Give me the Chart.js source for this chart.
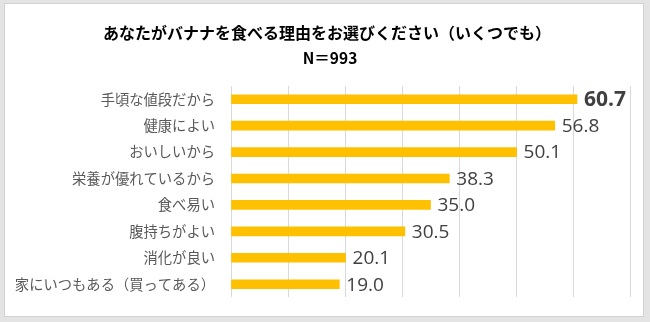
<!DOCTYPE html>
<html>
<head>
<meta charset="utf-8">
<script src="https://cdn.jsdelivr.net/npm/chart.js@4.4.0/dist/chart.umd.min.js"></script>
<style>
  html, body { margin: 0; padding: 0; background: #e4e4e4; }
  #wrap { position: relative; width: 650px; height: 322px; }
</style>
</head>
<body>
<div id="wrap"><canvas id="bananaChart" width="650" height="322"></canvas></div>
<script>
// data
const titleText = "あなたがバナナを食べる理由をお選びください（いくつでも）";
const sampleText = "N＝993";
const categories = [
    "手頃な値段だから",
    "健康によい",
    "おいしいから",
    "栄養が優れているから",
    "食べ易い",
    "腹持ちがよい",
    "消化が良い",
    "家にいつもある（買ってある）",
];
const percents = [60.7, 56.8, 50.1, 38.3, 35.0, 30.5, 20.1, 19.0];
const axisMin = 0;
const axisMax = 70;
const axisStep = 10;

// grey frame behind the white card, plus the two heading lines
const framePlugin = {
    id: "frame",
    beforeDraw(chart) {
        const c = chart.ctx;
        c.save();
        c.fillStyle = "#e4e4e4";
        c.fillRect(0, 0, chart.width, chart.height);
        c.fillStyle = "#ffffff";
        c.fillRect(5, 4, 638, 312);
        c.strokeStyle = "#d2d2d2";
        c.lineWidth = 1;
        c.strokeRect(4.5, 3.5, 639, 313);

        c.fillStyle = "#000000";
        c.textAlign = "center";
        c.textBaseline = "middle";
        c.font = "bold 16px 'Noto Sans CJK JP'";
        c.fillText(titleText, 327, 33);
        c.font = "bold 15.5px 'Noto Sans CJK JP'";
        c.fillText(sampleText, 330, 58);
        c.restore();
    },
};

// value labels at the end of each bar, the first one bold
const valueLabels = {
    id: "valueLabels",
    afterDatasetsDraw(chart) {
        const c = chart.ctx;
        const meta = chart.getDatasetMeta(0);
        c.save();
        c.textBaseline = "middle";
        c.textAlign = "left";
        c.fillStyle = "#404040";
        meta.data.forEach((bar, i) => {
            const v = chart.data.datasets[0].data[i];
            c.font = i === 0 ? "bold 21px 'Open Sans'" : "19px 'Open Sans'";
            c.fillText(v.toFixed(1), bar.x + 7, bar.y + 1);
        });
        c.restore();
    },
};

const ctx = document.getElementById("bananaChart").getContext("2d");
new Chart(ctx, {
    type: "bar",
    data: {
        labels: categories,
        datasets: [
            {
                data: percents,
                backgroundColor: "#ffc000",
                borderWidth: 0,
                barThickness: 9,
            },
        ],
    },
    options: {
        indexAxis: "y",
        responsive: false,
        animation: false,
        layout: {
            padding: { left: 4, right: 20, top: 86, bottom: 21 },
        },
        plugins: {
            legend: { display: false },
            tooltip: { enabled: false },
        },
        scales: {
            x: {
                min: axisMin,
                max: axisMax,
                ticks: { display: false, stepSize: axisStep },
                grid: { color: "#d9d9d9", drawTicks: false },
                border: { display: false },
                afterFit(scale) {
                    scale.height = 0;
                },
            },
            y: {
                grid: { display: false, drawTicks: false },
                border: { display: false },
                ticks: {
                    color: "#595959",
                    padding: 16,
                    font: { family: "'Noto Sans CJK JP'", size: 14.3 },
                },
                afterFit(scale) {
                    scale.width = 227;
                },
            },
        },
    },
    plugins: [framePlugin, valueLabels],
});
</script>
</body>
</html>
